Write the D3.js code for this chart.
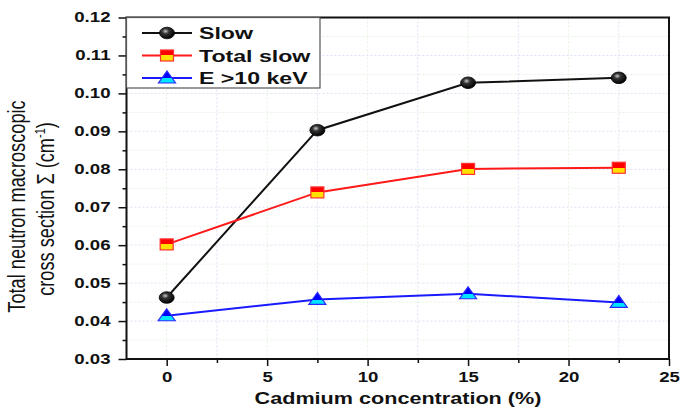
<!DOCTYPE html>
<html>
<head>
<meta charset="utf-8">
<script src="https://cdn.jsdelivr.net/npm/d3@7/dist/d3.min.js"></script>
<style>
  body { margin: 0; background: #fff; }
  svg { display: block; font-family: Arial, "Liberation Sans", sans-serif; }
</style>
</head>
<body>
<svg id="chart" width="681" height="408"></svg>
<script>
// Cadmium concentration (%)
const concentrations = [0, 7.5, 15, 22.5];
// Total neutron macroscopic cross section (cm^-1)
const slowValues = [0.0462, 0.0903, 0.1028, 0.1041];
const totalSlowValues = [0.0602, 0.0739, 0.0801, 0.0804];
const fastValues = [0.0414, 0.0457, 0.0472, 0.0449];
const seriesNames = ["Slow", "Total slow", "E >10 keV"];
const xTicks = [0, 5, 10, 15, 20, 25];
const yTicks = [0.03, 0.04, 0.05, 0.06, 0.07, 0.08, 0.09, 0.10, 0.11, 0.12];

const svg = d3.select("#chart");
const plotL = 126.5, plotR = 669, plotT = 17.5, plotB = 359;
const WIDE = 1.33; // horizontal text widening

const x = d3.scaleLinear().domain([-2, 25]).range([plotL, plotR]);
const y = d3.scaleLinear().domain([0.03, 0.12]).range([plotB, plotT]);

// widen text horizontally around its anchor
function widen(sel, f) {
  sel.each(function () {
    const w = this.getComputedTextLength();
    d3.select(this).attr("textLength", w * f).attr("lengthAdjust", "spacingAndGlyphs");
  });
}

// marker fills
const defs = svg.append("defs");
const rg = defs.append("radialGradient").attr("id", "ball")
  .attr("cx", "0.4").attr("cy", "0.35").attr("r", "0.65");
rg.append("stop").attr("offset", "0").attr("stop-color", "#c8c8c8");
rg.append("stop").attr("offset", "0.35").attr("stop-color", "#333");
rg.append("stop").attr("offset", "1").attr("stop-color", "#000");

const sq = defs.append("linearGradient").attr("id", "sqfill")
  .attr("x1", 0).attr("y1", 0).attr("x2", 0).attr("y2", 1);
sq.append("stop").attr("offset", "0.5").attr("stop-color", "#ff0000");
sq.append("stop").attr("offset", "0.5").attr("stop-color", "#ffe000");

const tri = defs.append("linearGradient").attr("id", "trifill")
  .attr("x1", 0).attr("y1", 0).attr("x2", 0).attr("y2", 1);
tri.append("stop").attr("offset", "0.6").attr("stop-color", "#0000ff");
tri.append("stop").attr("offset", "0.6").attr("stop-color", "#00e5ff");

// grid
const g = svg.append("g");
const minorY = d3.range(0.035, 0.12, 0.005);
g.selectAll(".hy").data(minorY).join("line")
  .attr("x1", plotL).attr("x2", plotR)
  .attr("y1", d => y(d)).attr("y2", d => y(d))
  .attr("stroke", (d, i) => i % 2 ? "#dfe0f4" : "#e4f2e0")
  .attr("stroke-width", 1).attr("stroke-dasharray", "2,2");
const gridX = d3.range(0, 25, 2.5);
g.selectAll(".vx").data(gridX).join("line")
  .attr("y1", plotT).attr("y2", plotB)
  .attr("x1", d => x(d)).attr("x2", d => x(d))
  .attr("stroke", (d, i) => i % 2 ? "#dfe0f4" : "#e4f2e0")
  .attr("stroke-width", 1).attr("stroke-dasharray", "2,2");

// axes
const yAxis = d3.axisLeft(y).tickValues(yTicks).tickFormat(d3.format(".2f")).tickSize(8).tickPadding(8);
const yAxisG = svg.append("g").attr("transform", `translate(${plotL},0)`).call(yAxis);
const yMinor = d3.axisLeft(y).tickValues(d3.range(0.035, 0.12, 0.01)).tickFormat("").tickSize(4);
svg.append("g").attr("transform", `translate(${plotL},0)`).call(yMinor);

const xAxis = d3.axisBottom(x).tickValues(xTicks).tickSize(7).tickPadding(6);
const xAxisG = svg.append("g").attr("transform", `translate(0,${plotB})`).call(xAxis);
const xMinor = d3.axisBottom(x).tickValues(d3.range(2.5, 25, 5)).tickFormat("").tickSize(4);
svg.append("g").attr("transform", `translate(0,${plotB})`).call(xMinor);

svg.selectAll(".domain").remove();
svg.selectAll(".tick line").attr("stroke", "#111").attr("stroke-width", 1.5);
svg.selectAll(".tick text").attr("fill", "#111").attr("font-size", 14)
  .attr("font-weight", "bold").attr("font-family", "Arial, 'Liberation Sans', sans-serif");
widen(yAxisG.selectAll(".tick text"), WIDE);
widen(xAxisG.selectAll(".tick text"), WIDE);

// frame
svg.append("rect").attr("x", plotL).attr("y", plotT)
  .attr("width", plotR - plotL).attr("height", plotB - plotT)
  .attr("fill", "none").attr("stroke", "#111").attr("stroke-width", 2);

// series
const series = [
  { name: seriesNames[0], values: slowValues, color: "#111", marker: "ball" },
  { name: seriesNames[1], values: totalSlowValues, color: "#ff1a1a", marker: "square" },
  { name: seriesNames[2], values: fastValues, color: "#1a1aff", marker: "triangle" }
];

function drawMarker(sel, type) {
  if (type === "ball") {
    sel.append("ellipse").attr("rx", 7.5).attr("ry", 5.8)
      .attr("fill", "url(#ball)").attr("stroke", "#000").attr("stroke-width", 0.8);
  } else if (type === "square") {
    sel.append("rect").attr("x", -6.5).attr("y", -5.5).attr("width", 13).attr("height", 11)
      .attr("fill", "url(#sqfill)").attr("stroke", "#ff3030").attr("stroke-width", 1.2);
  } else {
    sel.append("path").attr("d", "M0,-7L8.5,5L-8.5,5Z")
      .attr("fill", "url(#trifill)").attr("stroke", "#2a2aff").attr("stroke-width", 1.2);
  }
}

const line = d3.line().x(d => x(d[0])).y(d => y(d[1]));
series.forEach(s => {
  const pts = concentrations.map((c, i) => [c, s.values[i]]);
  svg.append("path").datum(pts).attr("d", line)
    .attr("fill", "none").attr("stroke", s.color).attr("stroke-width", 2);
});
series.forEach(s => {
  concentrations.forEach((c, i) => {
    const m = svg.append("g").attr("transform", `translate(${x(c)},${y(s.values[i])})`);
    drawMarker(m, s.marker);
  });
});

// legend
const lg = svg.append("g");
lg.append("rect").attr("x", plotL).attr("y", plotT).attr("width", 193.5).attr("height", 70.5)
  .attr("fill", "#fff").attr("stroke", "#555").attr("stroke-width", 1.2);
series.forEach((s, i) => {
  const ly = 33 + i * 22.5;
  lg.append("line").attr("x1", 142).attr("x2", 192).attr("y1", ly).attr("y2", ly)
    .attr("stroke", s.color).attr("stroke-width", 2);
  drawMarker(lg.append("g").attr("transform", `translate(167,${ly})`), s.marker);
  const t = lg.append("text").attr("x", 199).attr("y", ly).attr("dy", "0.36em")
    .attr("font-size", 17).attr("font-weight", "bold").attr("fill", "#111").text(s.name);
  widen(t, 1.36);
});

// axis titles
const xt = svg.append("text").attr("x", 398).attr("y", 404)
  .attr("text-anchor", "middle").attr("font-size", 16).attr("font-weight", "bold")
  .attr("fill", "#111").text("Cadmium concentration (%)");
widen(xt, 1.35);

const ytG = svg.append("g").attr("transform", `scale(${WIDE},1)`);
const yt1 = ytG.append("text").attr("transform", "rotate(-90)")
  .attr("x", -206.5).attr("y", 25 / WIDE)
  .attr("text-anchor", "middle").attr("font-size", 18.2).attr("fill", "#111")
  .text("Total neutron macroscopic");
const yt2 = ytG.append("text").attr("transform", "rotate(-90)")
  .attr("x", -209).attr("y", 54 / WIDE)
  .attr("text-anchor", "middle").attr("font-size", 18.2).attr("fill", "#111");
yt2.append("tspan").text("cross section Σ (cm");
yt2.append("tspan").attr("font-size", 11).attr("dy", -7).text("-1");
yt2.append("tspan").attr("dy", 7).text(")");
</script>
</body>
</html>
